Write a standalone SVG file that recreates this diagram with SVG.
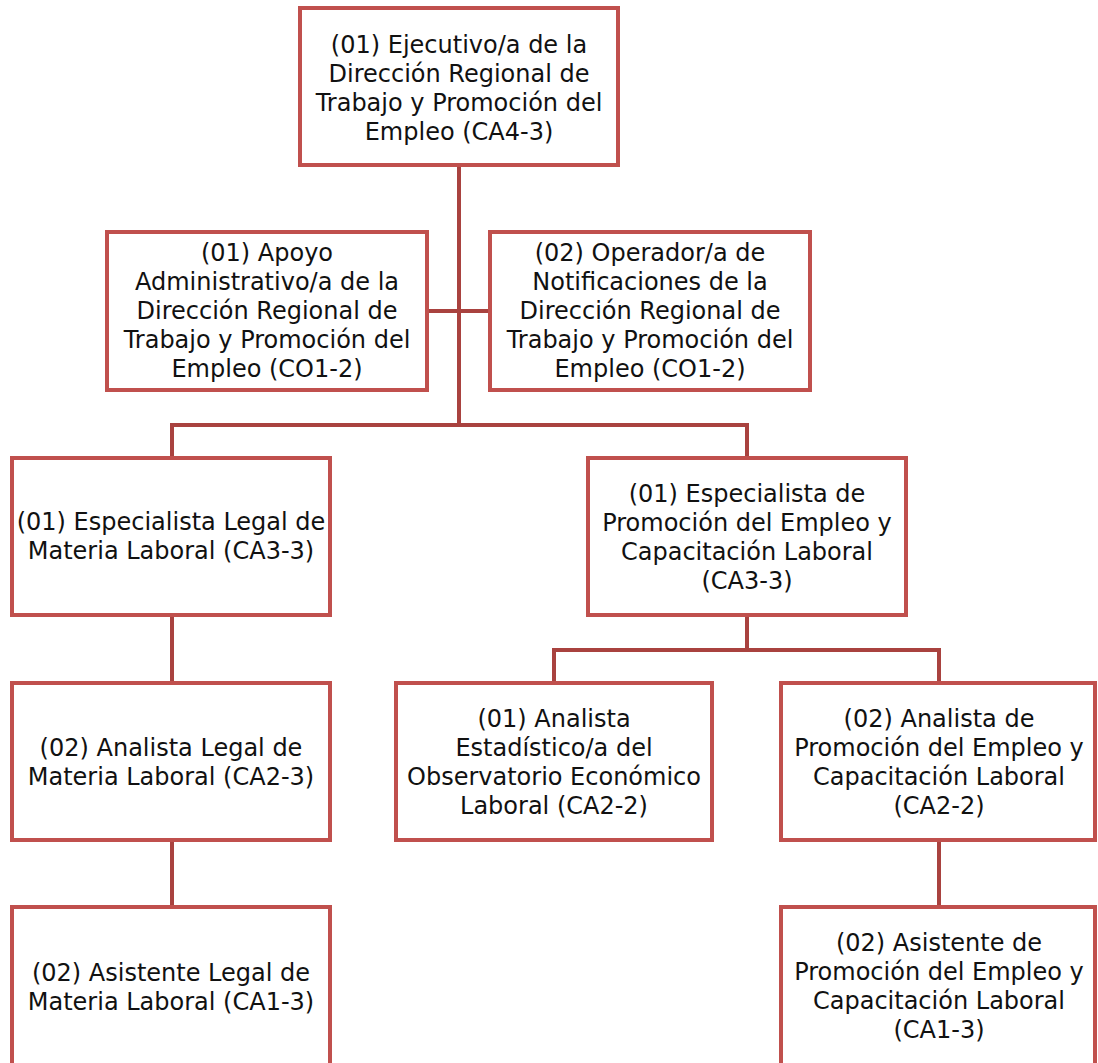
<svg xmlns="http://www.w3.org/2000/svg" width="1098" height="1063" viewBox="0 0 1098 1063">
<style>
.box{fill:#fff;stroke:#C0504D;stroke-width:4}
.con{fill:none;stroke:#A9423F;stroke-width:4}
.t{font-family:"DejaVu Sans","Liberation Sans",sans-serif;font-size:24px;fill:#111;text-anchor:middle}
</style>
<rect width="1098" height="1063" fill="#fff"/>
<g id="connectors">
<path class="con" d="M459 165V425M427 311H490M172 458V425H747V458"/>
<path class="con" d="M747 615V650M554 683V650H939V683"/>
<path class="con" d="M172 615V683M172 840V907M939 840V907"/>
</g>
<g id="n1"><rect class="box" x="300" y="8" width="318" height="157"/>
<text class="t"><tspan x="459" y="53">(01) Ejecutivo/a de la</tspan><tspan x="459" y="82">Dirección Regional de</tspan><tspan x="459" y="111">Trabajo y Promoción del</tspan><tspan x="459" y="140">Empleo (CA4-3)</tspan></text></g>
<g id="n2"><rect class="box" x="107" y="232" width="320" height="158"/>
<text class="t"><tspan x="267" y="261">(01) Apoyo</tspan><tspan x="267" y="290">Administrativo/a de la</tspan><tspan x="267" y="319">Dirección Regional de</tspan><tspan x="267" y="348">Trabajo y Promoción del</tspan><tspan x="267" y="377">Empleo (CO1-2)</tspan></text></g>
<g id="n3"><rect class="box" x="490" y="232" width="320" height="158"/>
<text class="t"><tspan x="650" y="261">(02) Operador/a de</tspan><tspan x="650" y="290">Notificaciones de la</tspan><tspan x="650" y="319">Dirección Regional de</tspan><tspan x="650" y="348">Trabajo y Promoción del</tspan><tspan x="650" y="377">Empleo (CO1-2)</tspan></text></g>
<g id="n4"><rect class="box" x="12" y="458" width="318" height="157"/>
<text class="t"><tspan x="171" y="530">(01) Especialista Legal de</tspan><tspan x="171" y="559">Materia Laboral (CA3-3)</tspan></text></g>
<g id="n5"><rect class="box" x="588" y="458" width="318" height="157"/>
<text class="t"><tspan x="747" y="502">(01) Especialista de</tspan><tspan x="747" y="531">Promoción del Empleo y</tspan><tspan x="747" y="560">Capacitación Laboral</tspan><tspan x="747" y="589">(CA3-3)</tspan></text></g>
<g id="n6"><rect class="box" x="12" y="683" width="318" height="157"/>
<text class="t"><tspan x="171" y="756">(02) Analista Legal de</tspan><tspan x="171" y="785">Materia Laboral (CA2-3)</tspan></text></g>
<g id="n7"><rect class="box" x="396" y="683" width="316" height="157"/>
<text class="t"><tspan x="554" y="727">(01) Analista</tspan><tspan x="554" y="756">Estadístico/a del</tspan><tspan x="554" y="785">Observatorio Económico</tspan><tspan x="554" y="814">Laboral (CA2-2)</tspan></text></g>
<g id="n8"><rect class="box" x="781" y="683" width="314" height="157"/>
<text class="t"><tspan x="939" y="727">(02) Analista de</tspan><tspan x="939" y="756">Promoción del Empleo y</tspan><tspan x="939" y="785">Capacitación Laboral</tspan><tspan x="939" y="814">(CA2-2)</tspan></text></g>
<g id="n9"><rect class="box" x="12" y="907" width="318" height="170"/>
<text class="t"><tspan x="171" y="981">(02) Asistente Legal de</tspan><tspan x="171" y="1010">Materia Laboral (CA1-3)</tspan></text></g>
<g id="n10"><rect class="box" x="781" y="907" width="314" height="170"/>
<text class="t"><tspan x="939" y="951">(02) Asistente de</tspan><tspan x="939" y="980">Promoción del Empleo y</tspan><tspan x="939" y="1009">Capacitación Laboral</tspan><tspan x="939" y="1038">(CA1-3)</tspan></text></g>
</svg>
